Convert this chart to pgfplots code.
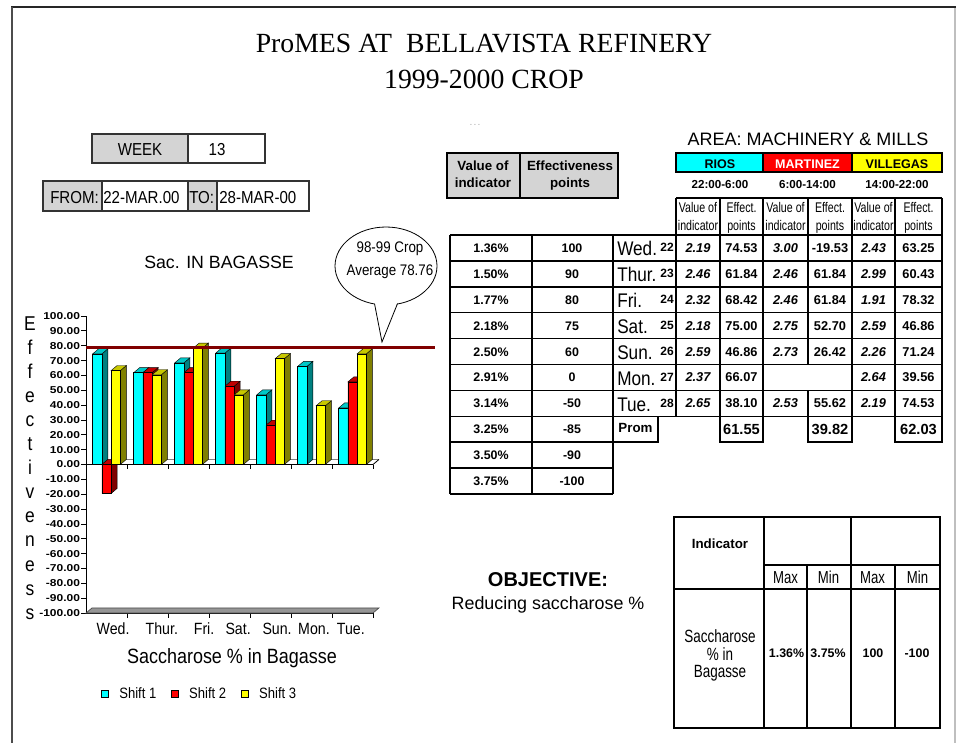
\documentclass[border=0pt]{standalone}
\usepackage{pgfplots}
\pgfplotsset{compat=1.18}
\usepackage{pgfplotstable}
\usepackage{fontspec}
\setmainfont{Liberation Sans}
\newfontfamily\nar[FakeStretch=0.87]{Liberation Sans}
\newfontfamily\cond[FakeStretch=0.76]{Liberation Sans}
\newfontfamily\wide[FakeStretch=1.2]{Liberation Sans}
\newfontfamily\tnr{Liberation Serif}

\definecolor{c1}{RGB}{0,255,255}
\definecolor{c1top}{RGB}{0,200,200}
\definecolor{c1side}{RGB}{0,128,128}
\definecolor{c2}{RGB}{255,0,0}
\definecolor{c2top}{RGB}{192,0,0}
\definecolor{c2side}{RGB}{128,0,0}
\definecolor{c3}{RGB}{255,255,0}
\definecolor{c3top}{RGB}{200,200,0}
\definecolor{c3side}{RGB}{128,128,0}
\definecolor{meanred}{RGB}{128,0,0}
\definecolor{hgray}{RGB}{212,212,212}
\definecolor{floorgray}{RGB}{150,150,150}

% Effectiveness points per shift (Shift 1 = RIOS, Shift 2 = MARTINEZ, Shift 3 = VILLEGAS)
\pgfplotstableread{
day s1 s2 s3
0 74.53 -19.53 63.25
1 61.84 61.84 60.43
2 68.42 61.84 78.32
3 75.00 52.70 46.86
4 46.86 26.42 71.24
5 66.07 nan 39.56
6 38.10 55.62 74.53
}\effdata

\def\nanstr{nan}
\def\barw{0.225}
\def\depx{0.146}
\def\depy{3.4}

% side and top faces of one 3-D bar, value read from the table
\newcommand\drawdepth[5]{%
  \pgfplotstablegetelem{#1}{#2}\of\effdata
  \edef\dvval{\pgfplotsretval}%
  \ifx\dvval\nanstr\else
    \pgfmathsetmacro\xa{#1+(#3)-\barw/2}%
    \pgfmathsetmacro\xb{#1+(#3)+\barw/2}%
    \pgfmathsetmacro\xc{\xa+\depx}%
    \pgfmathsetmacro\xd{\xb+\depx}%
    \pgfmathsetmacro\vt{max(\dvval,0)}%
    \pgfmathsetmacro\vtt{\vt+\depy}%
    \pgfmathsetmacro\vs{\dvval+\depy}%
    \edef\temp{%
      \noexpand\addplot[fill=#5,draw=black,line width=0.3pt,forget plot] coordinates {(\xb,0) (\xd,\depy) (\xd,\vs) (\xb,\dvval)} -- cycle;
      \noexpand\addplot[fill=#4,draw=black,line width=0.3pt,forget plot] coordinates {(\xa,\vt) (\xc,\vtt) (\xd,\vtt) (\xb,\vt)} -- cycle;
    }%
    \temp
  \fi
}

\begin{document}
\begin{tikzpicture}
\begin{scope}[x=0.75pt,y=-0.75pt,every node/.style={inner sep=0pt}]
\useasboundingbox (0,0) rectangle (956,743);
\coordinate (O) at (86,613);
% frame
\draw[line width=1.4pt, black!85] (11,7) -- (956,7);
\draw[line width=1.4pt, black!70] (12,7) -- (12,743);
\draw[line width=1.1pt, black!25] (955,8) -- (955,743);
% title
\node[anchor=base, font=\tnr\fontsize{20.8}{24}\selectfont] at (484,52) {ProMES AT\ \ BELLAVISTA REFINERY};
\node[anchor=base, font=\tnr\fontsize{20.8}{24}\selectfont] at (484,88) {1999-2000 CROP};
\node[anchor=base, font=\fontsize{5}{6}\selectfont, text=black!40] at (475,126) {-\ -\ -};
% week boxes
\filldraw[fill=hgray, draw=black!80, line width=0.8pt] (92,134) rectangle (188,163);
\draw[black!80, line width=0.8pt] (188,134) rectangle (265,163);
\node[anchor=base, font=\nar\fontsize{13}{14}\selectfont] at (140,155) {WEEK};
\node[anchor=base, font=\nar\fontsize{13}{14}\selectfont] at (217,155) {13};
\filldraw[fill=hgray, draw=black!80, line width=0.8pt] (43,181) rectangle (102,211);
\draw[black!80, line width=0.8pt] (102,181) rectangle (188,211);
\filldraw[fill=hgray, draw=black!80, line width=0.8pt] (188,181) rectangle (217,211);
\draw[black!80, line width=0.8pt] (217,181) rectangle (309,211);
\node[anchor=base west, font=\nar\fontsize{13}{14}\selectfont] at (50,203) {FROM:};
\node[anchor=base west, font=\nar\fontsize{13}{14}\selectfont] at (103,203) {22-MAR.00};
\node[anchor=base west, font=\nar\fontsize{13}{14}\selectfont] at (189,203) {TO:};
\node[anchor=base west, font=\nar\fontsize{13}{14}\selectfont] at (219,203) {28-MAR-00};
% chart title and labels
\node[anchor=base, font=\fontsize{13.3}{14}\selectfont] at (219,268) {Sac. IN BAGASSE};
\foreach \l [count=\i from 0] in {E,f,f,e,c,t,i,v,e,n,e,s,s}
  {\node[anchor=base, font=\nar\fontsize{15}{16}\selectfont] at (30,{330+24.1*\i}) {\l};}
\node[anchor=base, font=\nar\fontsize{15.5}{16}\selectfont] at (232,663) {Saccharose \% in Bagasse};
% area title
\node[anchor=base, font=\fontsize{13.5}{14}\selectfont] at (808,145) {AREA: MACHINERY \& MILLS};
% left header
\filldraw[fill=hgray, draw=black, line width=1.1pt] (447,153) rectangle (618,198);
\draw[line width=1.1pt] (520,153) -- (520,198);
\node[anchor=base, font=\bfseries\fontsize{10}{11}\selectfont] at (483,170) {Value of};
\node[anchor=base, font=\bfseries\fontsize{10}{11}\selectfont] at (483,187) {indicator};
\node[anchor=base, font=\bfseries\fontsize{10}{11}\selectfont] at (570,170) {Effectiveness};
\node[anchor=base, font=\bfseries\fontsize{10}{11}\selectfont] at (570,187) {points};
% colour header
\filldraw[fill=c1, draw=black, line width=1.1pt] (676,153) rectangle (763,172);
\filldraw[fill=c2, draw=black, line width=1.1pt] (763,153) rectangle (852,172);
\filldraw[fill=c3, draw=black, line width=1.1pt] (852,153) rectangle (942,172);
\node[anchor=base, font=\bfseries\fontsize{9.4}{10}\selectfont] at (720,168) {RIOS};
\node[anchor=base, font=\bfseries\fontsize{9.4}{10}\selectfont, text=white] at (807.5,168) {MARTINEZ};
\node[anchor=base, font=\bfseries\fontsize{9.4}{10}\selectfont] at (897,168) {VILLEGAS};
\node[anchor=base, font=\bfseries\fontsize{8.7}{10}\selectfont] at (720,188) {22:00-6:00};
\node[anchor=base, font=\bfseries\fontsize{8.7}{10}\selectfont] at (807.5,188) {6:00-14:00};
\node[anchor=base, font=\bfseries\fontsize{8.7}{10}\selectfont] at (897,188) {14:00-22:00};
% sub header
\draw[line width=1.1pt] (676,198) -- (942,198);
\foreach \x in {676,720,763,808,852,895,942} \draw[line width=0.9pt] (\x,198) -- (\x,235);
\foreach \x in {698,785.5,873.5} {
  \node[anchor=base, font=\cond\fontsize{10.5}{11}\selectfont] at (\x,212) {Value of};
  \node[anchor=base, font=\cond\fontsize{10.5}{11}\selectfont] at (\x,230) {indicator};}
\foreach \x in {741.5,830,918.5} {
  \node[anchor=base, font=\cond\fontsize{10.5}{11}\selectfont] at (\x,212) {Effect.};
  \node[anchor=base, font=\cond\fontsize{10.5}{11}\selectfont] at (\x,230) {points};}
% grid of the tables
\foreach \k in {0,...,10} \draw[line width=1.1pt] (450,{235+25.9*\k}) -- (613,{235+25.9*\k});
\foreach \k in {0,...,7} \draw[line width=1.1pt] (613,{235+25.9*\k}) -- (942,{235+25.9*\k});
\foreach \x in {450,532,613} \draw[line width=1.1pt] (\x,235) -- (\x,494);
\foreach \x in {676,720,763,852,895,942} \draw[line width=1.1pt] (\x,235) -- (\x,416.3);
\draw[line width=1.1pt] (808,235) -- (808,364.5);
\draw[line width=1.1pt] (808,390.4) -- (808,416.3);
\draw[line width=1.1pt] (613,416.3) rectangle (658,442.2);
\draw[line width=1.1pt] (720,416.3) rectangle (763,442.2);
\draw[line width=1.1pt] (808,416.3) rectangle (852,442.2);
\draw[line width=1.1pt] (895,416.3) rectangle (942,442.2);
% conversion table
\foreach \va/\ea [count=\k] in {1.36\%/100,1.50\%/90,1.77\%/80,2.18\%/75,2.50\%/60,2.91\%/0,3.14\%/-50,3.25\%/-85,3.50\%/-90,3.75\%/-100} {
  \node[anchor=base, font=\bfseries\fontsize{9.3}{10}\selectfont] at (491,{235+25.9*(\k-0.5)+4.5}) {\va};
  \node[anchor=base, font=\bfseries\fontsize{9.3}{10}\selectfont] at (572,{235+25.9*(\k-0.5)+4.5}) {\ea};}
% daily table
\foreach \dn/\dd/\va/\ea/\vb/\eb/\vc/\ec [count=\k] in {
  Wed./22/2.19/74.53/3.00/-19.53/2.43/63.25,
  Thur./23/2.46/61.84/2.46/61.84/2.99/60.43,
  Fri./24/2.32/68.42/2.46/61.84/1.91/78.32,
  Sat./25/2.18/75.00/2.75/52.70/2.59/46.86,
  Sun./26/2.59/46.86/2.73/26.42/2.26/71.24,
  Mon./27/2.37/66.07/{}/{}/2.64/39.56,
  Tue./28/2.65/38.10/2.53/55.62/2.19/74.53} {
  \node[anchor=base west, font=\nar\fontsize{14.8}{15}\selectfont] at (617,{235+25.9*(\k-0.5)+8}) {\dn};
  \node[anchor=base east, font=\bfseries\fontsize{9}{10}\selectfont] at (674,{235+25.9*(\k-0.5)+4}) {\dd};
  \node[anchor=base, font=\bfseries\itshape\fontsize{9.6}{10}\selectfont] at (698,{235+25.9*(\k-0.5)+4.5}) {\va};
  \node[anchor=base, font=\bfseries\fontsize{9.6}{10}\selectfont] at (741.5,{235+25.9*(\k-0.5)+4.5}) {\ea};
  \node[anchor=base, font=\bfseries\itshape\fontsize{9.6}{10}\selectfont] at (785.5,{235+25.9*(\k-0.5)+4.5}) {\vb};
  \node[anchor=base, font=\bfseries\fontsize{9.6}{10}\selectfont] at (830,{235+25.9*(\k-0.5)+4.5}) {\eb};
  \node[anchor=base, font=\bfseries\itshape\fontsize{9.6}{10}\selectfont] at (873.5,{235+25.9*(\k-0.5)+4.5}) {\vc};
  \node[anchor=base, font=\bfseries\fontsize{9.6}{10}\selectfont] at (918.5,{235+25.9*(\k-0.5)+4.5}) {\ec};}
\node[anchor=base, font=\bfseries\fontsize{10}{11}\selectfont] at (635.5,432) {Prom};
\node[anchor=base, font=\bfseries\fontsize{11}{12}\selectfont] at (741.5,434) {61.55};
\node[anchor=base, font=\bfseries\fontsize{11}{12}\selectfont] at (830,434) {39.82};
\node[anchor=base, font=\bfseries\fontsize{11}{12}\selectfont] at (918.5,434) {62.03};
% objective
\node[anchor=base, font=\bfseries\fontsize{15}{16}\selectfont] at (548,586) {OBJECTIVE:};
\node[anchor=base, font=\fontsize{13.4}{14}\selectfont] at (548,609) {Reducing saccharose \%};
% indicator table
\draw[line width=1.2pt] (674,517) rectangle (940,728);
\draw[line width=1.2pt] (764,517) -- (764,728);
\draw[line width=1.2pt] (851,517) -- (851,728);
\draw[line width=1.2pt] (807,565) -- (807,728);
\draw[line width=1.2pt] (895,565) -- (895,728);
\draw[line width=1.2pt] (764,565) -- (940,565);
\draw[line width=1.2pt] (674,589) -- (940,589);
\node[anchor=base, font=\bfseries\fontsize{10}{11}\selectfont] at (720,548) {Indicator};
\node[anchor=base, font=\cond\fontsize{13}{14}\selectfont] at (785.5,583) {Max};
\node[anchor=base, font=\cond\fontsize{13}{14}\selectfont] at (828.5,583) {Min};
\node[anchor=base, font=\cond\fontsize{13}{14}\selectfont] at (872.5,583) {Max};
\node[anchor=base, font=\cond\fontsize{13}{14}\selectfont] at (917.5,583) {Min};
\node[anchor=base, font=\cond\fontsize{13.3}{14}\selectfont] at (720,642) {Saccharose};
\node[anchor=base, font=\cond\fontsize{13.3}{14}\selectfont] at (720,660) {\% in};
\node[anchor=base, font=\cond\fontsize{13.3}{14}\selectfont] at (720,677) {Bagasse};
\node[anchor=base, font=\bfseries\fontsize{9.3}{10}\selectfont] at (786.5,657) {1.36\%};
\node[anchor=base, font=\bfseries\fontsize{9.3}{10}\selectfont] at (828,657) {3.75\%};
\node[anchor=base, font=\bfseries\fontsize{9.3}{10}\selectfont] at (873,657) {100};
\node[anchor=base, font=\bfseries\fontsize{9.3}{10}\selectfont] at (917,657) {-100};
\end{scope}

\begin{axis}[
  at={(O)}, anchor=south west,
  scale only axis, width=215.25pt, height=222.75pt,
  xmin=-0.5, xmax=6.5, ymin=-100, ymax=100,
  clip=false,
  axis lines*=left,
  axis line style={black, line width=0.6pt},
  ytick={-100,-90,...,100},
  xtick={0.5,1.5,...,6.5},
  xticklabels={},
  tick align=outside,
  major tick length=3.5pt,
  tick style={black, line width=0.6pt},
  yticklabel style={font=\wide\bfseries\fontsize{7.5}{8}\selectfont, inner sep=0.8pt,
    /pgf/number format/.cd, fixed, fixed zerofill, precision=2, assume math mode=true},
  extra x ticks={0.16,1.35,2.38,3.21,4.16,5.06,5.96},
  extra x tick labels={Wed.,Thur.,Fri.,Sat.,Sun.,Mon.,Tue.},
  extra x tick style={major tick length=0pt, tick label style={font=\nar\fontsize{12.2}{13}\selectfont, yshift=-4pt}},
  legend columns=3,
  legend cell align=left,
  legend style={at={(0.397,-0.2727)}, anchor=center, draw=none, fill=none,
    font=\nar\fontsize{11.25}{12}\selectfont, inner sep=0pt,
    /tikz/every odd column/.append style={column sep=6pt},
    /tikz/every even column/.append style={column sep=9pt}},
]
% floor plate and zero plane edges
\addplot[fill=floorgray, draw=black!70, line width=0.5pt, forget plot] coordinates {(-0.5,-100) (-0.354,-96.6) (6.646,-96.6) (6.5,-100)} -- cycle;
\addplot[draw=black!50, line width=0.4pt, forget plot] coordinates {(-0.354,3.4) (6.646,3.4)};
\addplot[draw=black, line width=0.6pt, forget plot] coordinates {(-0.5,0) (6.5,0) (6.646,3.4)};
\pgfplotsinvokeforeach{0.5,1.5,...,6.5}{\draw[black, line width=0.6pt] (axis cs:#1,0) -- ++(0pt,-3.5pt);}
% depth faces, left to right
\pgfplotsinvokeforeach{0,...,6}{%
  \drawdepth{#1}{s1}{-0.225}{c1top}{c1side}%
  \drawdepth{#1}{s2}{0}{c2top}{c2side}%
  \drawdepth{#1}{s3}{0.225}{c3top}{c3side}%
}
% front faces
\addplot[ybar, bar width=0.225, bar shift=0, fill=c1, draw=black, line width=0.4pt,
  legend image code/.code={\draw[fill=c1,draw=black,line width=0.5pt] (0pt,-2.6pt) rectangle (5.2pt,2.6pt);}]
  table[x expr=\coordindex-0.225, y=s1] {\effdata};
\addplot[ybar, bar width=0.225, bar shift=0, fill=c2, draw=black, line width=0.4pt,
  legend image code/.code={\draw[fill=c2,draw=black,line width=0.5pt] (0pt,-2.6pt) rectangle (5.2pt,2.6pt);}]
  table[x expr=\coordindex, y=s2] {\effdata};
\addplot[ybar, bar width=0.225, bar shift=0, fill=c3, draw=black, line width=0.4pt,
  legend image code/.code={\draw[fill=c3,draw=black,line width=0.5pt] (0pt,-2.6pt) rectangle (5.2pt,2.6pt);}]
  table[x expr=\coordindex+0.225, y=s3] {\effdata};
% 98-99 crop average
\addplot[draw=meanred, line width=2.8pt, forget plot] coordinates {(-0.5,78.76) (8.0,78.76)};
\legend{Shift 1,Shift 2,Shift 3}
\end{axis}

\begin{scope}[x=0.75pt,y=-0.75pt,every node/.style={inner sep=0pt}]
\draw[fill=white, line width=0.6pt] (386,266) ellipse [x radius=38.25pt, y radius=29.25pt];
\fill[white] (374,301) -- (382,342) -- (398,301) -- cycle;
\draw[line width=0.6pt] (374.5,303.6) -- (382,342) -- (397.5,303.6);
\node[anchor=base, font=\nar\fontsize{11.5}{12}\selectfont] at (390,252) {98-99 Crop};
\node[anchor=base, font=\nar\fontsize{11.5}{12}\selectfont] at (390,275) {Average 78.76};
\end{scope}
\end{tikzpicture}
\end{document}
